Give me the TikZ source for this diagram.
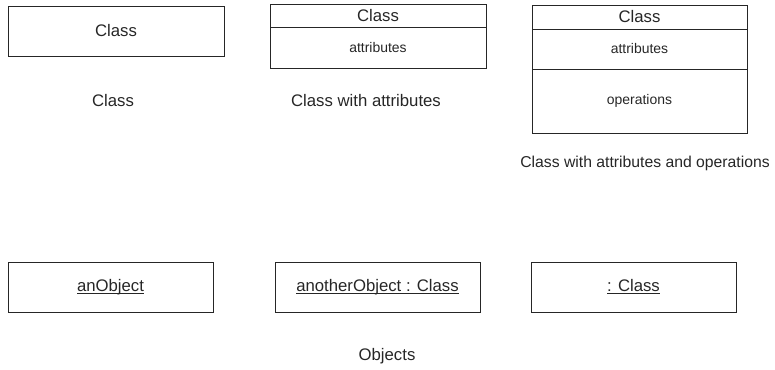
\documentclass[tikz,border=0pt]{standalone}
\usepackage{fontspec}
\setmainfont{Liberation Sans}
\newcommand\objul[1]{\setbox0\hbox{#1}\rlap{\rule[-2.2bp]{\wd0}{0.9bp}}\box0}
\definecolor{ink}{HTML}{262626}
\tikzset{
  compart/.style={draw=ink, line width=1bp, anchor=north west, inner sep=0pt, outer sep=0pt, text=ink, font=\fontsize{16.8}{19}\selectfont},
  small/.style={font=\fontsize{14}{17}\selectfont},
  caption/.style={text=ink, inner sep=0pt, font=\fontsize{16.8}{19}\selectfont},
}
\begin{document}
\begin{tikzpicture}[x=1bp,y=-1bp]
\useasboundingbox (0,0) rectangle (775,369);
% Class
\node[compart, minimum width=216bp, minimum height=50bp] (c1) at (8,6) {Class};
\node[caption] (l1) at (113,101) {Class};
% Class with attributes
\node[compart, minimum width=216bp, minimum height=23bp] (c2n) at (270,4) {Class};
\node[compart, small, minimum width=216bp, minimum height=41bp] (c2a) at (270,27) {attributes};
\node[caption] (l2) at (366,101) {Class with attributes};
% Class with attributes and operations
\node[compart, minimum width=215bp, minimum height=24bp] (c3n) at (532,5) {Class};
\node[compart, small, minimum width=215bp, minimum height=40bp] (c3a) at (532,29) {attributes};
\node[compart, small, minimum width=215bp, minimum height=64bp] (c3o) at (532,69) {operations};
\node[caption, font=\fontsize{15.8}{18}\selectfont] (l3) at (645,163) {Class with attributes and operations};
% Objects
\node[compart, minimum width=205bp, minimum height=50bp] (o1) at (8,262) {\objul{anObject}};
\node[compart, minimum width=205bp, minimum height=50bp] (o2) at (275,262) {\objul{anotherObject : Class}};
\node[compart, minimum width=205bp, minimum height=50bp] (o3) at (531,262) {\objul{: Class}};
\node[caption] (l4) at (387,356) {Objects};
\end{tikzpicture}
\end{document}
